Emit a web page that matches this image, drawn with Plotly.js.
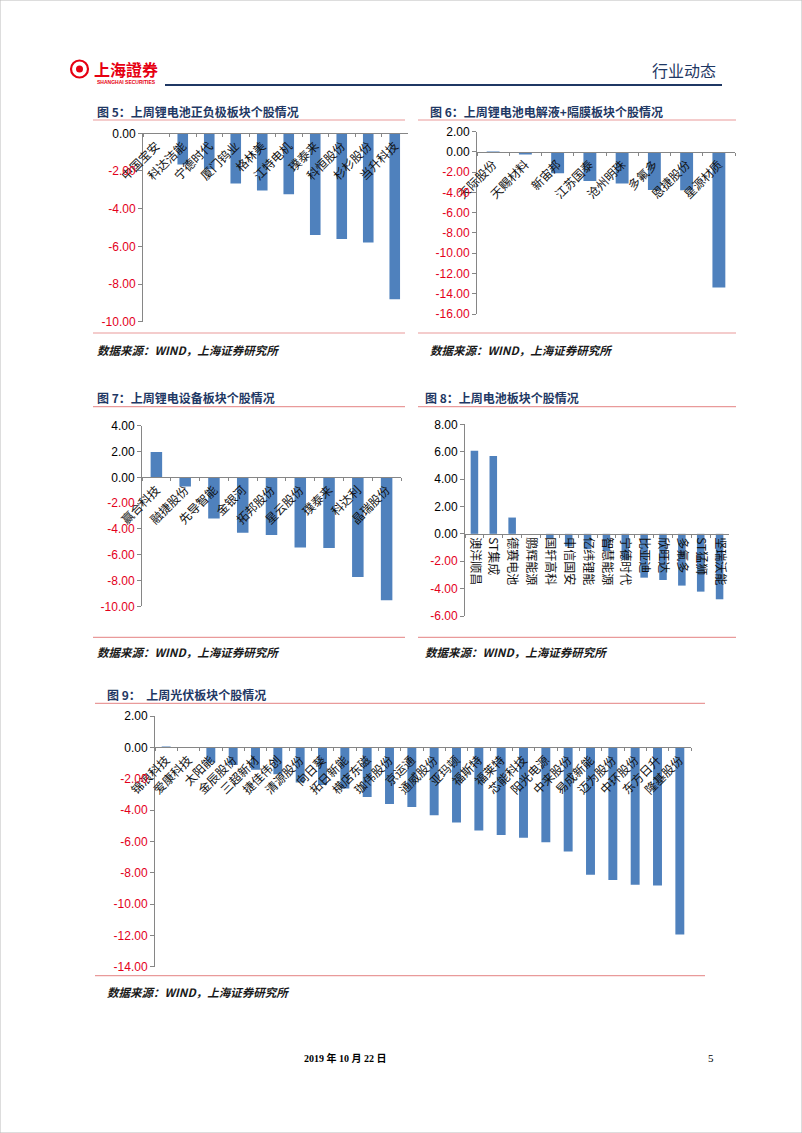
<!DOCTYPE html>
<html><head><meta charset="utf-8">
<script src="https://cdn.plot.ly/plotly-3.0.1.min.js"></script>
<style>html,body{margin:0;padding:0;background:#fff}#chart{width:802px;height:1133px}</style>
</head><body><div id="chart"></div>
<script>
const W = 802, H = 1133;

// ---- data ----
const cats5 = ['中国宝安','科达洁能','宁德时代','厦门钨业','格林美','江特电机','璞泰来','科恒股份','杉杉股份','当升科技'];
const vals5 = [-0.03,-1.65,-1.91,-2.67,-3.04,-3.24,-5.40,-5.61,-5.79,-8.81];
const ticks5 = [0,-2,-4,-6,-8,-10];

const cats6 = ['天际股份','天赐材料','新宙邦','江苏国泰','沧州明珠','多氟多','恩捷股份','星源材质'];
const vals6 = [0.05,-0.26,-2.10,-2.86,-3.12,-3.75,-3.78,-13.39];
const ticks6 = [2,0,-2,-4,-6,-8,-10,-12,-14,-16];

const cats7 = ['赢合科技','融捷股份','先导智能','金银河','拓邦股份','星云股份','璞泰来','科达利','晶瑞股份'];
const vals7 = [1.96,-0.72,-3.20,-4.29,-4.47,-5.45,-5.48,-7.73,-9.54];
const ticks7 = [4,2,0,-2,-4,-6,-8,-10];

const cats8 = ['澳洋顺昌','ST集成','德赛电池','鹏辉能源','国轩高科','中信国安','亿纬锂能','智慧能源','宁德时代','比亚迪','欣旺达','多氟多','ST猛狮','坚瑞沃能'];
const vals8 = [6.06,5.69,1.19,0,-0.32,-0.92,-1.12,-1.26,-1.90,-3.20,-3.37,-3.78,-4.22,-4.78];
const ticks8 = [8,6,4,2,0,-2,-4,-6];

const cats9 = ['锦浪科技','爱康科技','太阳能','金辰股份','三超新材','捷佳伟创','清源股份','向日葵','拓日新能','横店东磁','珈伟股份','京运通','通威股份','亚玛顿','福斯特','福莱特','芯能科技','阳光电源','中来股份','易成新能','迈为股份','中环股份','东方日升','隆基股份'];
const vals9 = [0.05,-0.02,-0.96,-1.13,-1.43,-1.72,-2.25,-2.40,-2.62,-3.17,-3.62,-3.80,-4.34,-4.79,-5.30,-5.60,-5.77,-6.06,-6.64,-8.13,-8.47,-8.77,-8.81,-11.95];
const ticks9 = [2,0,-2,-4,-6,-8,-10,-12,-14];

// ---- layout helpers ----
const fx = x => x / W;
const fy = y => 1 - y / H;
const BLUE = '#4F81BD', RED = '#E3001B', PINK = '#E99A9A', NAVY = '#1F3864', AX = '#868686';
const CJK = '"Noto Sans CJK SC", "Liberation Sans", sans-serif';
const NUM = '"Liberation Sans", Arial, sans-serif';

const charts = [
  {cats: cats5, vals: vals5, ticks: ticks5, box: [143, 408, 133.3, 321.7], range: [-10, 0], angle: -45},
  {cats: cats6, vals: vals6, ticks: ticks6, box: [477, 735, 131.7, 314], range: [-16, 2], angle: -45},
  {cats: cats7, vals: vals7, ticks: ticks7, box: [142, 401, 425.7, 606.3], range: [-10, 4], angle: -45},
  {cats: cats8, vals: vals8, ticks: ticks8, box: [465, 729, 424.3, 616], range: [-6, 8], angle: 90},
  {cats: cats9, vals: vals9, ticks: ticks9, box: [155, 691, 716, 966.7], range: [-14, 2], angle: -45}
];

const data = [];
const layout = {
  width: W, height: H,
  margin: {l: 0, r: 0, t: 0, b: 0},
  paper_bgcolor: '#fff', plot_bgcolor: 'rgba(0,0,0,0)',
  showlegend: false, bargap: 0.6,
  shapes: [], annotations: []
};

charts.forEach((c, i) => {
  const sfx = i === 0 ? '' : String(i + 1);
  data.push({
    type: 'bar', x: c.cats, y: c.vals,
    xaxis: 'x' + sfx, yaxis: 'y' + sfx,
    marker: {color: BLUE, line: {width: 0}},
    hoverinfo: 'x+y'
  });
  const [x0, x1, yt, yb] = c.box;
  const d0 = fy(yb), d1 = fy(yt);
  const zeroPos = d0 + (0 - c.range[0]) / (c.range[1] - c.range[0]) * (d1 - d0);
  layout['xaxis' + sfx] = {
    domain: [fx(x0), fx(x1)], anchor: 'free', position: zeroPos,
    type: 'category', showline: true, linecolor: AX, linewidth: 1,
    ticks: 'outside', tickson: 'boundaries', ticklen: 3, tickcolor: AX,
    tickangle: c.angle, showgrid: false, zeroline: false, fixedrange: true,
    tickfont: {family: CJK, size: 12, color: '#111'}
  };
  layout['yaxis' + sfx] = {
    domain: [d0, d1], anchor: 'x' + sfx, range: c.range,
    showline: true, linecolor: AX, linewidth: 1,
    ticks: 'outside', ticklen: 4, tickcolor: AX,
    tickmode: 'array', tickvals: c.ticks,
    ticktext: c.ticks.map(v => v < 0 ? '<span style="color:' + RED + '">' + v.toFixed(2) + '</span>' : v.toFixed(2)),
    showgrid: false, zeroline: false, fixedrange: true,
    tickfont: {family: NUM, size: 12, color: '#000'}
  };
});

function hline(x0, x1, y, color, w) {
  layout.shapes.push({type: 'line', xref: 'paper', yref: 'paper', x0: fx(x0), x1: fx(x1), y0: fy(y), y1: fy(y), line: {color: color, width: w}});
}
function text(t, x, y, opts) {
  layout.annotations.push(Object.assign({
    text: t, x: fx(x), y: fy(y), xref: 'paper', yref: 'paper',
    xanchor: 'left', yanchor: 'middle', showarrow: false,
    font: {family: CJK, size: 12, color: NAVY}
  }, opts || {}));
}

// frames of the five figures
hline(93, 405, 120, PINK, 1.2);  hline(93, 405, 333, PINK, 1.2);
hline(418, 736, 120, PINK, 1.2); hline(418, 736, 333, PINK, 1.2);
hline(93, 405, 406.7, PINK, 1.2); hline(93, 405, 637.3, PINK, 1.2);
hline(418, 736, 406.7, PINK, 1.2); hline(418, 736, 637.3, PINK, 1.2);
hline(95, 705, 703.3, PINK, 1.2); hline(95, 705, 975.7, PINK, 1.2);

// titles
text('<b>图 5：上周锂电池正负极板块个股情况</b>', 95, 111);
text('<b>图 6：上周锂电池电解液+隔膜板块个股情况</b>', 428, 111);
text('<b>图 7：上周锂电设备板块个股情况</b>', 95, 397.7);
text('<b>图 8：上周电池板块个股情况</b>', 423, 397.7);
text('<b>图 9：  上周光伏板块个股情况</b>', 105, 694);

// sources
const srcFont = {family: CJK, size: 11.5, color: '#1a1a1a'};
['95,350', '428,350', '95,652', '423,652', '105,992'].forEach(s => {
  const [x, y] = s.split(',').map(Number);
  text('<b><i>数据来源：WIND，上海证券研究所</i></b>', x, y, {font: srcFont});
});

// header
hline(165, 722, 85, NAVY, 2);
text('行业动态', 718, 70, {xanchor: 'right', font: {family: CJK, size: 16, color: NAVY}});
layout.shapes.push({type: 'circle', xref: 'paper', yref: 'paper', x0: fx(71), x1: fx(88), y0: fy(77.5), y1: fy(60.5), line: {color: '#E60012', width: 2.2}});
layout.shapes.push({type: 'circle', xref: 'paper', yref: 'paper', x0: fx(76), x1: fx(83), y0: fy(72.5), y1: fy(65.5), fillcolor: '#E60012', line: {color: '#E60012', width: 0}});
text('<b>上海證券</b>', 126, 68.5, {xanchor: 'center', font: {family: CJK, size: 16, color: '#E60012'}});
text('<b>SHANGHAI SECURITIES</b>', 127, 82.5, {xanchor: 'center', font: {family: NUM, size: 5, color: '#E60012'}});

// footer
text('<b>2019 年 10 月 22 日</b>', 345, 1058, {xanchor: 'center', font: {family: '"Liberation Serif", "Noto Sans CJK SC", serif', size: 10, color: '#000'}});
text('5', 711, 1058, {xanchor: 'center', font: {family: '"Liberation Serif", serif', size: 11, color: '#000'}});

// page border
layout.shapes.push({type: 'rect', xref: 'paper', yref: 'paper', x0: 0, x1: 1, y0: 0, y1: 1, line: {color: '#bbb', width: 1}});

Plotly.newPlot('chart', data, layout, {displayModeBar: false, staticPlot: true});
</script>
</body></html>
